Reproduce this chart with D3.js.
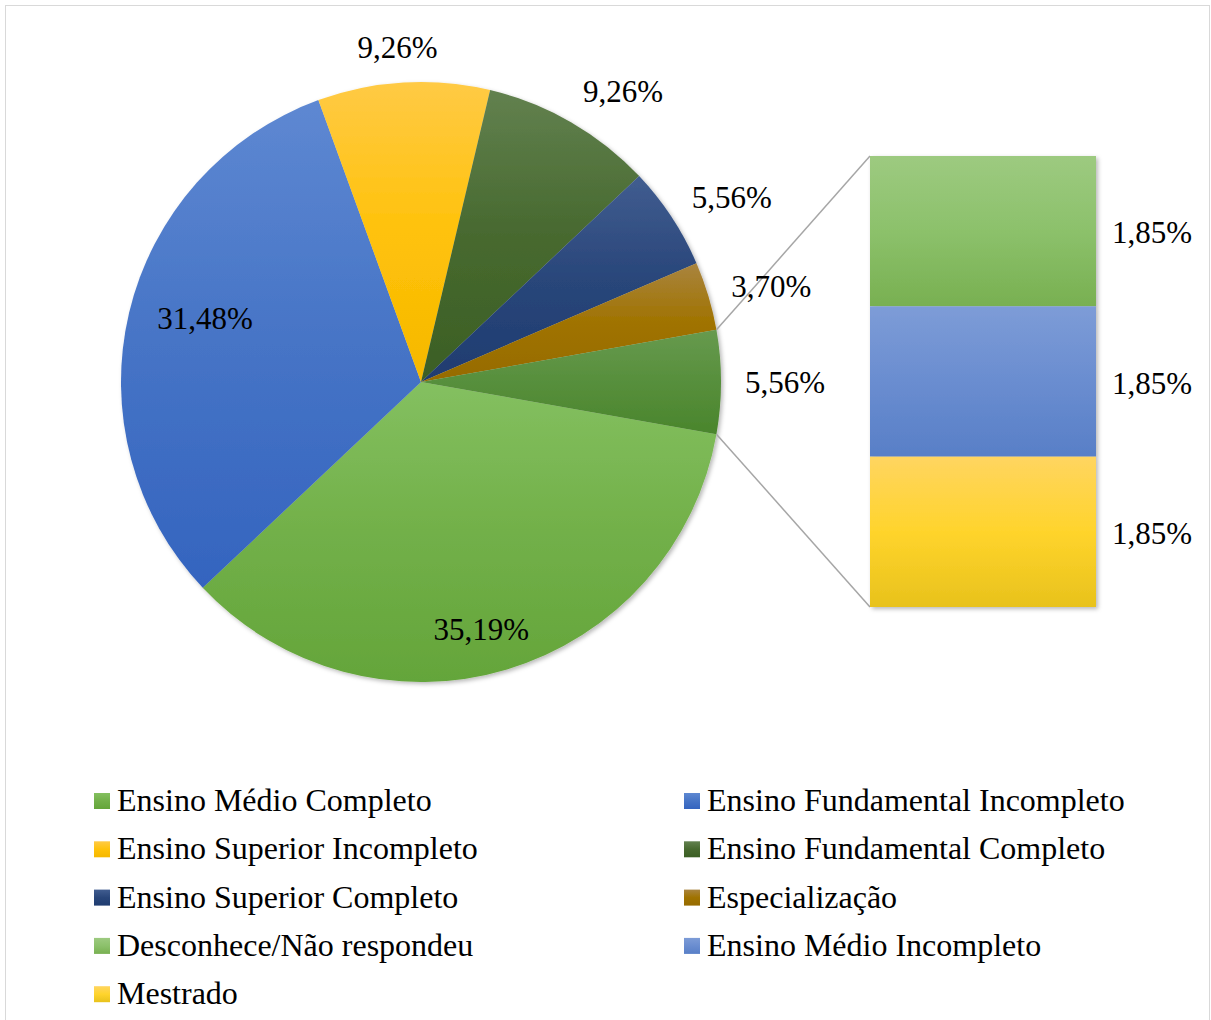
<!DOCTYPE html>
<html>
<head>
<meta charset="utf-8">
<script src="https://cdn.jsdelivr.net/npm/d3@7"></script>
<style>
  html, body { margin: 0; padding: 0; background: #ffffff; }
  svg { display: block; }
</style>
</head>
<body>
<script>
// ---------------- DATA ----------------
const pieCategories = [
  "Ensino Médio Completo",
  "Ensino Fundamental Incompleto",
  "Ensino Superior Incompleto",
  "Ensino Fundamental Completo",
  "Ensino Superior Completo",
  "Especialização",
  "Outros"
];
const pieValues = [35.19, 31.48, 9.26, 9.26, 5.56, 3.70, 5.56];
const pieLabels = ["35,19%", "31,48%", "9,26%", "9,26%", "5,56%", "3,70%", "5,56%"];

const barCategories = ["Desconhece/Não respondeu", "Ensino Médio Incompleto", "Mestrado"];
const barValues = [1.85, 1.85, 1.85];
const barLabels = ["1,85%", "1,85%", "1,85%"];

const legendOrder = [
  "Ensino Médio Completo", "Ensino Fundamental Incompleto",
  "Ensino Superior Incompleto", "Ensino Fundamental Completo",
  "Ensino Superior Completo", "Especialização",
  "Desconhece/Não respondeu", "Ensino Médio Incompleto",
  "Mestrado"
];

// ---------------- STYLE ----------------
const W = 1211, H = 1020;
const colors = {
  "Ensino Médio Completo":        ["#84c060", "#72b049", "#64a53a"],
  "Ensino Fundamental Incompleto":["#5e88d2", "#4674c6", "#3464bf"],
  "Ensino Superior Incompleto":   ["#ffca45", "#ffc20a", "#f5b800"],
  "Ensino Fundamental Completo":  ["#62814f", "#47692f", "#3b5f24"],
  "Ensino Superior Completo":     ["#415d90", "#29467a", "#1f3c70"],
  "Especialização":               ["#a9843f", "#a07300", "#966b00"],
  "Outros":                       ["#679a4e", "#578f3c", "#4a852c"],
  "Desconhece/Não respondeu":     ["#9dca80", "#8cc16b", "#78b051"],
  "Ensino Médio Incompleto":      ["#7d9cd7", "#6a8dd0", "#587fc7"],
  "Mestrado":                     ["#ffd560", "#ffd42c", "#e8c21c"]
};
const font = "'Liberation Serif', 'Times New Roman', serif";
const cx = 421, cy = 382, R = 300;
const bar = { x: 870, y: 156, w: 226, h: 451 };

const svg = d3.select("body").append("svg").attr("width", W).attr("height", H);
const defs = svg.append("defs");

const keyId = k => "g" + Object.keys(colors).indexOf(k);
Object.entries(colors).forEach(([k, c]) => {
  const g = defs.append("linearGradient").attr("id", keyId(k))
    .attr("x1", 0).attr("y1", 0).attr("x2", 0).attr("y2", 1);
  g.append("stop").attr("offset", "0%").attr("stop-color", c[0]);
  g.append("stop").attr("offset", "50%").attr("stop-color", c[1]);
  g.append("stop").attr("offset", "100%").attr("stop-color", c[2]);
});
const shadow = defs.append("filter").attr("id", "shadow")
  .attr("x", "-10%").attr("y", "-10%").attr("width", "120%").attr("height", "120%");
shadow.append("feDropShadow").attr("dx", 2).attr("dy", 2).attr("stdDeviation", 2)
  .attr("flood-color", "#000").attr("flood-opacity", 0.28);

// chart border
svg.append("rect").attr("x", 5.5).attr("y", 5.5).attr("width", W - 7).attr("height", H + 10)
  .attr("fill", "#fff").attr("stroke", "#d9d9d9").attr("stroke-width", 1);

// ---------------- PIE ----------------
const total = d3.sum(pieValues);
const otherIdx = pieValues.length - 1;
const start = Math.PI / 2 + Math.PI * pieValues[otherIdx] / total;
const pie = d3.pie().sort(null).startAngle(start).endAngle(start + 2 * Math.PI);
const arcs = pie(pieValues);
const arc = d3.arc().innerRadius(0).outerRadius(R);

const pg = svg.append("g").attr("transform", `translate(${cx},${cy})`);
pg.append("g").attr("filter", "url(#shadow)")
  .selectAll("path").data(arcs).enter().append("path")
  .attr("d", arc)
  .attr("fill", (d, i) => `url(#${keyId(pieCategories[i])})`);

// connector lines
const oa = arcs[otherIdx];
const pt = (a, r) => [cx + r * Math.sin(a), cy - r * Math.cos(a)];
const p1 = pt(oa.startAngle, R), p2 = pt(oa.endAngle, R);
svg.append("line").attr("x1", p1[0]).attr("y1", p1[1]).attr("x2", bar.x).attr("y2", bar.y)
  .attr("stroke", "#a6a6a6").attr("stroke-width", 1.5);
svg.append("line").attr("x1", p2[0]).attr("y1", p2[1]).attr("x2", bar.x).attr("y2", bar.y + bar.h)
  .attr("stroke", "#a6a6a6").attr("stroke-width", 1.5);

// pie labels
const labelSize = 31;
const lblW = 80, lblH = 24;
const insideShift = 3 * Math.PI / 180;
arcs.forEach((d, i) => {
  const mid = (d.startAngle + d.endAngle) / 2;
  const inside = pieValues[i] > 20;
  let x, y;
  if (inside) {
    const rr = i === 0 ? R * 0.85 : R * 0.75;
    [x, y] = pt(mid + insideShift, rr);
    y -= 1;
  } else {
    const [px, py] = pt(mid, R + 24);
    const sx = Math.max(-1, Math.min(1, 2 * Math.sin(mid)));
    const sy = Math.cos(mid);
    x = px + (lblW / 2) * sx;
    y = py - (lblH / 2) * sy;
  }
  svg.append("text").attr("x", x).attr("y", y + 11)
    .attr("text-anchor", "middle")
    .attr("font-family", font).attr("font-size", labelSize).attr("fill", "#000")
    .text(pieLabels[i]);
});

// ---------------- BAR ----------------
const yScale = d3.scaleLinear().domain([0, d3.sum(barValues)]).range([bar.y, bar.y + bar.h]);
let acc = 0;
const stacks = barValues.map((v, i) => { const s = { i, y0: acc, y1: acc + v }; acc += v; return s; });
svg.append("g").attr("filter", "url(#shadow)")
  .selectAll("rect").data(stacks).enter().append("rect")
  .attr("x", bar.x).attr("width", bar.w)
  .attr("y", d => yScale(d.y0))
  .attr("height", d => yScale(d.y1) - yScale(d.y0))
  .attr("fill", d => `url(#${keyId(barCategories[d.i])})`);
stacks.forEach(d => {
  svg.append("text")
    .attr("x", bar.x + bar.w + 56)
    .attr("y", (yScale(d.y0) + yScale(d.y1)) / 2 + 12)
    .attr("text-anchor", "middle")
    .attr("font-family", font).attr("font-size", labelSize).attr("fill", "#000")
    .text(barLabels[d.i]);
});

// ---------------- LEGEND ----------------
const legX = [94, 684], legY0 = 811, legDy = 48.3;
legendOrder.forEach((name, i) => {
  const col = i % 2, row = Math.floor(i / 2);
  const x = legX[col], y = legY0 + row * legDy;
  svg.append("rect").attr("x", x).attr("y", y - 18).attr("width", 16).attr("height", 16)
    .attr("fill", `url(#${keyId(name)})`);
  svg.append("text").attr("x", x + 23).attr("y", y)
    .attr("font-family", font).attr("font-size", 32).attr("fill", "#000")
    .text(name);
});
</script>
</body>
</html>
